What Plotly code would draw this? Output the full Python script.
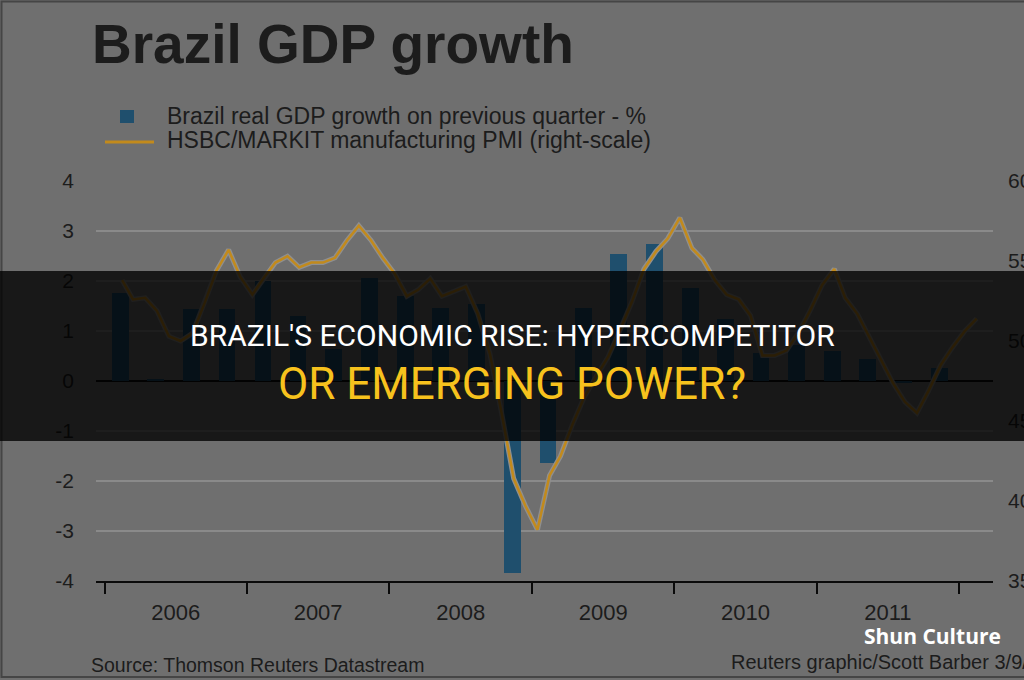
import plotly.graph_objects as go
import pandas as pd

# ---------------- data ----------------
quarters = ["2006Q1", "2006Q2", "2006Q3", "2006Q4",
            "2007Q1", "2007Q2", "2007Q3", "2007Q4",
            "2008Q1", "2008Q2", "2008Q3", "2008Q4",
            "2009Q1", "2009Q2", "2009Q3", "2009Q4",
            "2010Q1", "2010Q2", "2010Q3", "2010Q4",
            "2011Q1", "2011Q2", "2011Q3", "2011Q4"]
gdp_growth = [1.77, 0.05, 1.44, 1.44,
              2.00, 1.30, 0.65, 2.06,
              1.70, 1.46, 1.54, -3.84,
              -1.64, 1.46, 2.55, 2.74,
              1.86, 1.24, 0.56, 0.72,
              0.60, 0.44, -0.04, 0.26]

pmi_start = "2006-02"
pmi_values = [53.8, 52.6, 52.7, 51.9, 50.3, 50.0, 50.5, 52.4, 54.4, 55.7, 54.0,
              52.9, 54.0, 54.9, 55.3, 54.6, 54.9, 54.9, 55.2, 56.3, 57.2, 56.3, 55.2,
              54.2, 52.8, 53.2, 53.9, 52.8, 53.1, 53.4, 51.7, 49.2, 45.5, 41.4, 39.7,
              38.2, 41.6, 42.8, 44.8, 46.5, 47.8, 49.0, 50.7, 52.5, 54.5, 55.6, 56.4,
              57.7, 55.8, 55.1, 53.8, 52.9, 52.6, 51.6, 49.1, 49.1, 49.4, 50.5, 51.9,
              53.5, 54.5, 52.7, 51.7, 50.3, 48.8, 47.4, 46.2, 45.5, 46.9, 48.5, 49.6,
              50.6, 51.4]

left_ticks = [-4, -3, -2, -1, 0, 1, 2, 3, 4]
left_tick_labels = ["-4", "-3", "-2", "-1", "0", "1", "2", "3", "4"]
right_ticks = [35, 40, 45, 50, 55, 60]
right_tick_labels = ["35", "40", "45", "50", "55", "60"]

title_text = "Brazil GDP growth"
legend_bar = "Brazil real GDP growth on previous quarter - %"
legend_line = "HSBC/MARKIT manufacturing PMI (right-scale)"
source_text = "Source: Thomson Reuters Datastream"
credit_text = "Reuters graphic/Scott Barber 3/9/12"
banner_line1 = "BRAZIL'S ECONOMIC RISE: HYPERCOMPETITOR"
banner_line2 = "OR EMERGING POWER?"
watermark = "Shun Culture"

# ---------------- derived x positions ----------------
q_dates = [pd.Period(q, freq="Q").start_time + pd.Timedelta(days=41) for q in quarters]
m_dates = [p.start_time + pd.Timedelta(days=14)
           for p in pd.period_range(pmi_start, periods=len(pmi_values), freq="M")]

# ---------------- layout geometry ----------------
W, H = 1024, 680
L, R, T, B = 96, 993, 181, 581

def px(x):
    return (x - L) / (R - L)

def py(y):
    return (B - y) / (B - T)

BG = "#6f6f6f"
TXT = "#1c1c1c"
BAR = "#1f4f6d"
LINE = "#c28a1c"
FONT = "Liberation Sans, Arial, sans-serif"

fig = go.Figure()
fig.add_trace(go.Bar(x=q_dates, y=gdp_growth, marker=dict(color=BAR, line=dict(width=0)),
                     width=43 * 86400000, name=legend_bar, yaxis="y", showlegend=False))
fig.add_trace(go.Scatter(x=m_dates, y=pmi_values, mode="lines", yaxis="y2",
                         line=dict(color="#8f8f8f", width=5), hoverinfo="skip", showlegend=False))
fig.add_trace(go.Scatter(x=m_dates, y=pmi_values, mode="lines", yaxis="y2",
                         line=dict(color=LINE, width=2.5), name=legend_line, showlegend=False))

shapes = []
annotations = []

# outer frame of the original graphic
shapes.append(dict(type="rect", xref="paper", yref="paper",
                   x0=px(1.5), x1=px(1040), y0=py(1.5), y1=py(677),
                   line=dict(color="#454545", width=2), fillcolor="rgba(0,0,0,0)", layer="below"))

# custom legend
shapes.append(dict(type="rect", xref="paper", yref="paper",
                   x0=px(120), x1=px(134), y0=py(110), y1=py(123),
                   fillcolor=BAR, line=dict(width=0)))
shapes.append(dict(type="line", xref="paper", yref="paper",
                   x0=px(105), x1=px(154), y0=py(142), y1=py(142),
                   line=dict(color=LINE, width=3)))

# dark banner
shapes.append(dict(type="rect", xref="paper", yref="paper",
                   x0=px(-20), x1=px(1044), y0=py(271), y1=py(441),
                   fillcolor="rgba(0,0,0,0.78)", line=dict(width=0), layer="above"))

def ann(text, x, y, size, color=TXT, anchor="left", family=FONT, yanchor="middle"):
    annotations.append(dict(text=text, xref="paper", yref="paper", x=px(x), y=py(y),
                            xanchor=anchor, yanchor=yanchor, showarrow=False,
                            borderpad=0,
                            font=dict(family=family, size=size, color=color)))

ann("<b>" + title_text + "</b>", 91, 44, 55)
ann(legend_bar, 166, 116, 23)
ann(legend_line, 166, 140, 23)
ann(source_text, 90, 665, 19.5)
ann(credit_text, 730, 662, 20)
ann(banner_line1, 512, 335, 30, color="#ffffff", anchor="center", family="Roboto, sans-serif")
ann(banner_line2, 512, 384, 44, color="#f7c21d", anchor="center", family="Roboto, sans-serif")
ann("<b>" + watermark + "</b>", 932, 636, 21, color="#ffffff", anchor="center",
    family="Open Sans, sans-serif")

fig.update_layout(
    template="none",
    width=W, height=H,
    margin=dict(l=L, r=W - R, t=T, b=H - B, pad=0, autoexpand=False),
    paper_bgcolor=BG, plot_bgcolor=BG,
    font=dict(family=FONT, size=21, color=TXT),
    showlegend=False,
    bargap=0,
    xaxis=dict(type="date", range=["2005-12-10", "2012-03-28"], automargin=False,
               tick0="2006-01-01", dtick="M12", tickformat="%Y", ticklabelmode="period",
               ticks="outside", ticklen=11, tickwidth=2, tickcolor="#0a0a0a",
               showline=True, linecolor="#0a0a0a", linewidth=2,
               showgrid=False, zeroline=False,
               tickfont=dict(size=22, color=TXT, family=FONT)),
    yaxis=dict(range=[-4, 4], tickmode="array", tickvals=left_ticks, ticktext=left_tick_labels,
               automargin=False,
               showgrid=True, gridcolor="#8a8a8a", gridwidth=1.5,
               zeroline=True, zerolinecolor="#0a0a0a", zerolinewidth=2,
               showline=False, ticks="", ticklabelstandoff=21,
               tickfont=dict(size=21, color=TXT, family=FONT)),
    yaxis2=dict(range=[35, 60], overlaying="y", side="right", automargin=False,
                tickmode="array", tickvals=right_ticks, ticktext=right_tick_labels,
                showgrid=False, zeroline=False, showline=False, ticks="",
                ticklabelstandoff=14,
                tickfont=dict(size=21, color=TXT, family=FONT)),
    shapes=shapes,
    annotations=annotations,
)

fig.write_html("out.html")
